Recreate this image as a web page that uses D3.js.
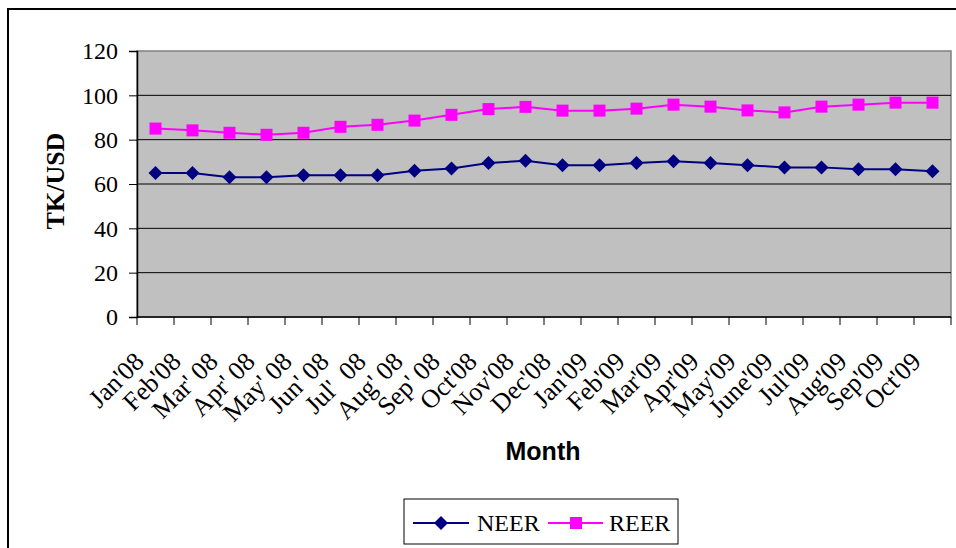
<!DOCTYPE html>
<html><head><meta charset="utf-8">
<script src="https://cdn.jsdelivr.net/npm/d3@7/dist/d3.min.js"></script>
<style>
html,body{margin:0;padding:0;background:#fff;}
svg{display:block;}
text{white-space:pre;}
</style></head>
<body>
<svg id="c" width="956" height="548"></svg>
<script>
const months = ["Jan'08","Feb'08","Mar' 08","Apr' 08","May' 08","Jun' 08","Jul'  08","Aug' 08","Sep' 08","Oct'08","Nov'08","Dec'08","Jan'09","Feb'09","Mar'09","Apr'09","May'09","June'09","Jul'09","Aug'09","Sep'09","Oct'09"];
const neer = [65,65,63,63,64,64,64,66,67,69.5,70.5,68.5,68.5,69.5,70.3,69.5,68.5,67.5,67.5,66.6,66.6,65.8];
const reer = [85,84.2,83.1,82.2,83.1,85.8,86.7,88.6,91.2,93.8,94.8,93.1,93.1,94,95.8,94.9,93.2,92.3,94.9,95.8,96.7,96.7];
const yTicks = [0,20,40,60,80,100,120];

const SERIF = "'Liberation Serif', 'Times New Roman', serif";
const svg = d3.select("#c");
const L=137, R=951, T=51, B=317;
const x = d3.scaleBand().domain(months).range([L,R]).padding(0);
const y = d3.scaleLinear().domain([0,120]).range([B,T]);
const cx = d => x(d) + x.bandwidth()/2;

// outer border
svg.append("path").attr("d","M8,548 L8,9 L956,9").attr("fill","none").attr("stroke","#000").attr("stroke-width",2);

// plot area
svg.append("rect").attr("x",L).attr("y",T).attr("width",R-L).attr("height",B-T)
  .attr("fill","#C0C0C0").attr("stroke","#808080").attr("stroke-width",1.5);

// gridlines
svg.append("g").selectAll("line").data(yTicks.filter(v=>v>0&&v<120)).join("line")
  .attr("x1",L).attr("x2",R).attr("y1",d=>y(d)).attr("y2",d=>y(d))
  .attr("stroke","#000").attr("stroke-width",1);

// y axis
const ya = svg.append("g").attr("transform",`translate(${L},0)`)
  .call(d3.axisLeft(y).tickValues(yTicks).tickSize(8).tickPadding(11).tickFormat(d3.format("d")));
ya.select(".domain").attr("stroke","#000").attr("stroke-width",1.5);
ya.selectAll(".tick line").attr("stroke","#000");
ya.selectAll(".tick text").style("font-family",SERIF).style("font-size","24px").attr("fill","#000").attr("dy","0.33em");

// x axis
const boundaries = d3.range(months.length+1).map(i => L + i*x.bandwidth());
svg.append("line").attr("x1",L).attr("x2",R).attr("y1",B).attr("y2",B).attr("stroke","#000").attr("stroke-width",1.5);
svg.append("g").selectAll("line").data(boundaries).join("line")
  .attr("x1",d=>d).attr("x2",d=>d).attr("y1",B).attr("y2",B+8).attr("stroke","#000");
svg.append("g").selectAll("text").data(months).join("text")
  .attr("transform",d=>`translate(${cx(d)-10},${363}) rotate(-45)`)
  .attr("text-anchor","end")
  .style("font-family",SERIF).style("font-size","26px").attr("fill","#000")
  .text(d=>d);

// axis titles
svg.append("text").attr("transform","translate(64,181) rotate(-90)").attr("text-anchor","middle")
  .style("font-family",SERIF).style("font-weight","bold").style("font-size","26px")
  .text("TK/USD");
svg.append("text").attr("x",543).attr("y",460).attr("text-anchor","middle")
  .style("font-family","'Liberation Sans', Arial, sans-serif").style("font-weight","bold").style("font-size","25px")
  .text("Month");

// lines
const line = d3.line().x((d,i)=>cx(months[i])).y(d=>y(d));
svg.append("path").datum(neer).attr("d",line).attr("fill","none").attr("stroke","#000080").attr("stroke-width",2);
svg.append("path").datum(reer).attr("d",line).attr("fill","none").attr("stroke","#FF00FF").attr("stroke-width",2);

const diamond = (px,py,s) => `M${px},${py-s} L${px+s},${py} L${px},${py+s} L${px-s},${py} Z`;
svg.append("g").selectAll("path").data(neer).join("path")
  .attr("d",(d,i)=>diamond(cx(months[i]),y(d),7)).attr("fill","#000080");
svg.append("g").selectAll("rect").data(reer).join("rect")
  .attr("x",(d,i)=>cx(months[i])-6).attr("y",d=>y(d)-6).attr("width",12).attr("height",12).attr("fill","#FF00FF");

// legend
const lg = svg.append("g");
lg.append("rect").attr("x",404).attr("y",499).attr("width",274).attr("height",45).attr("fill","#fff").attr("stroke","#000").attr("stroke-width",1);
const ly = 523;
lg.append("line").attr("x1",413).attr("x2",469).attr("y1",ly).attr("y2",ly).attr("stroke","#000080").attr("stroke-width",2);
lg.append("path").attr("d",diamond(441,ly,7)).attr("fill","#000080");
lg.append("text").attr("x",477).attr("y",ly+8).style("font-family",SERIF).style("font-size","24px").text("NEER");
lg.append("line").attr("x1",548).attr("x2",603).attr("y1",ly).attr("y2",ly).attr("stroke","#FF00FF").attr("stroke-width",2);
lg.append("rect").attr("x",570).attr("y",ly-6).attr("width",12).attr("height",12).attr("fill","#FF00FF");
lg.append("text").attr("x",609).attr("y",ly+8).style("font-family",SERIF).style("font-size","24px").text("REER");
</script>
</body></html>
